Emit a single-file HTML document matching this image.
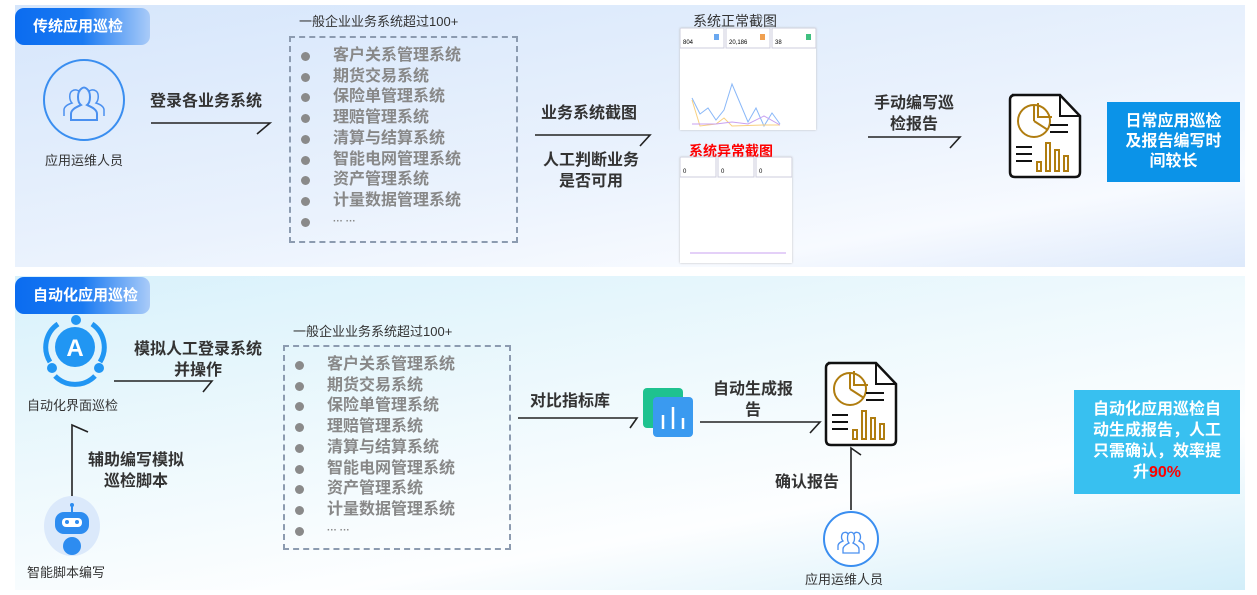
<!DOCTYPE html>
<html><head><meta charset="utf-8"><style>
body{margin:0;width:1257px;height:595px;background:#fff;position:relative;overflow:hidden;font-family:"Liberation Sans","Noto Sans CJK SC",sans-serif;}
.a{position:absolute;white-space:nowrap;}
.p1{position:absolute;left:15px;top:5px;width:1230px;height:262px;background:linear-gradient(170deg,#d6e6fb 0%,#eaf2fd 55%,#f7faff 80%,#dde9fb 100%);}
.p2{position:absolute;left:15px;top:276px;width:1230px;height:314px;background:linear-gradient(170deg,#d8f1fb 0%,#eef9fd 40%,#fdfeff 70%,#d2eef9 100%);}
.tag{position:absolute;left:15px;width:135px;height:37px;border-radius:9px;background:linear-gradient(90deg,#0b6cf0 0%,#1a7af2 50%,#a9cbf8 100%);color:#fff;font-weight:bold;font-size:15px;line-height:37px;padding-left:18px;box-sizing:border-box;}
.lbl{font-size:16px;color:#333;text-align:center;line-height:21px;font-weight:bold;}
.sm{font-size:13px;color:#333;}
.box{position:absolute;border:2.5px dashed #8c9bb0;box-sizing:border-box;}
.it{position:absolute;font-size:16px;color:#888;line-height:20.7px;font-weight:bold;}
.it div{position:relative;padding-left:44px;}
.it div:before{content:"";position:absolute;left:12px;top:6px;width:9px;height:9px;border-radius:50%;background:#8a8a8a;}
.shot{position:absolute;background:#fff;box-shadow:0 0 2px #bbb;}
</style></head><body>
<div class="p1"></div><div class="p2"></div>
<div class="tag" style="top:8px">传统应用巡检</div>
<div class="tag" style="top:277px">自动化应用巡检</div>

<svg class="a" style="left:0;top:0" width="1257" height="595">
<g fill="none" stroke="#222" stroke-width="1.6">
<path d="M151 123H270L257 134"/>
<path d="M535 135H650L640 146"/>
<path d="M868 137H960L950 148"/>
<path d="M114 381H212L203 392"/>
<path d="M72 497V425L88 432"/>
<path d="M518 418H637L630 428"/>
<path d="M700 422H820L810 433"/>
<path d="M851 510V448L861 455"/>
</g>
<circle cx="84" cy="100" r="40" fill="none" stroke="#3a8ef0" stroke-width="2"/>
<g fill="none" stroke="#4a90f0" stroke-width="1.5">
<path d="M64 116v-6c0-4 5-6 8-7-3-3-3-10 0-12 3-2 6-1 8 1"/>
<path d="M104 116v-6c0-4-5-6-8-7 3-3 3-10 0-12-3-2-6-1-8 1"/>
<path d="M71 120v-6c0-5 6-7 10-9-4-3-4-13 0-16 2-2 4-2 6 0 4 3 4 13 0 16 4 2 10 4 10 9v6z" stroke-width="2"/>
</g>
<circle cx="851" cy="539" r="27" fill="#fff" stroke="#3a8ef0" stroke-width="2"/>
<g fill="none" stroke="#4a90f0" stroke-width="1.3">
<path d="M838 550v-4c0-3 3-4 5-5-2-2-2-6 0-8 2-1 4-1 5 1"/>
<path d="M864 550v-4c0-3-3-4-5-5 2-2 2-6 0-8-2-1-4-1-5 1"/>
<path d="M843 553v-4c0-3 4-5 6-6-2-2-2-8 0-10 1-1 3-1 4 0 2 2 2 8 0 10 2 1 6 3 6 6v4z"/>
</g>
<g id="doc">
<path d="M1012 95H1060L1080 116V172Q1080 177 1075 177H1015Q1010 177 1010 172V100Q1010 95 1015 95Z" fill="#fff" stroke="#111" stroke-width="2.5"/>
<path d="M1060 95V116H1080" fill="none" stroke="#111" stroke-width="2"/>
<g fill="none" stroke="#b07d10" stroke-width="2">
<circle cx="1034" cy="121" r="16"/><path d="M1034 121V105M1034 121L1048 130M1038 103V117H1052"/>
<rect x="1046" y="143" width="4" height="28"/><rect x="1055" y="150" width="4" height="21"/><rect x="1064" y="156" width="4" height="15"/><rect x="1037" y="162" width="4" height="9"/>
</g>
<g stroke="#111" stroke-width="2"><path d="M1050 125H1068M1050 132H1068M1016 147H1032M1016 154H1032M1016 161H1032"/></g>
</g>
<use href="#doc" transform="translate(-184 268)"/>
<circle cx="75" cy="347" r="20" fill="#2196f3"/>
<text x="75" y="356" font-size="24" font-weight="bold" fill="#fff" text-anchor="middle" font-family="Liberation Sans">A</text>
<path d="M58 324A28 28 0 0 0 50 362M92 324A28 28 0 0 1 100 362M55 376A28 28 0 0 0 95 376" fill="none" stroke="#2196f3" stroke-width="5"/>
<circle cx="76" cy="320" r="5" fill="#2196f3"/><circle cx="52" cy="368" r="5" fill="#2196f3"/><circle cx="99" cy="368" r="5" fill="#2196f3"/>
<ellipse cx="72" cy="526" rx="28" ry="30" fill="#dbe9fb"/>
<rect x="55" y="512" width="34" height="22" rx="9" fill="#2d8cf0"/>
<rect x="62" y="518" width="20" height="9" rx="4" fill="#fff"/>
<circle cx="67" cy="522" r="2" fill="#2d8cf0"/><circle cx="77" cy="522" r="2" fill="#2d8cf0"/>
<path d="M72 506V512" stroke="#2d8cf0" stroke-width="2"/><circle cx="72" cy="505" r="2" fill="#2d8cf0"/>
<circle cx="72" cy="546" r="9" fill="#2d8cf0"/>
<rect x="643" y="388" width="40" height="40" rx="4" fill="#1fc28f"/>
<rect x="653" y="397" width="40" height="40" rx="4" fill="#3a9af0"/>
<g stroke="#fff" stroke-width="2.5"><path d="M663 415V429M673 407V429M683 418V429"/></g>
</svg>

<div class="a sm" style="left:42px;top:150px;width:84px;text-align:center">应用运维人员</div>
<div class="a lbl" style="left:150px;top:91px">登录各业务系统</div>
<div class="a sm" style="left:299px;top:11px">一般企业业务系统超过100+</div>
<div class="box" style="left:289px;top:36px;width:229px;height:207px"></div>
<div class="it" style="left:289px;top:46px"><div>客户关系管理系统</div><div>期货交易系统</div><div>保险单管理系统</div><div>理赔管理系统</div><div>清算与结算系统</div><div>智能电网管理系统</div><div>资产管理系统</div><div>计量数据管理系统</div><div style="font-size:10px">··· ···</div></div>
<div class="a lbl" style="left:541px;top:103px">业务系统截图</div>
<div class="a lbl" style="left:540px;top:150px;width:102px">人工判断业务<br>是否可用</div>
<div class="a" style="left:693px;top:11px;font-size:14px;color:#333">系统正常截图</div>
<div class="shot" style="left:680px;top:28px;width:136px;height:102px">
<svg width="136" height="102"><rect x="0" y="0" width="44" height="20" fill="#fff" stroke="#ccd"/><rect x="46" y="0" width="44" height="20" fill="#fff" stroke="#ccd"/><rect x="92" y="0" width="44" height="20" fill="#fff" stroke="#ccd"/>
<text x="3" y="16" font-size="6">804</text><text x="49" y="16" font-size="6">20,186</text><text x="95" y="16" font-size="6">38</text>
<rect x="34" y="6" width="5" height="6" fill="#6aa8f0"/><rect x="80" y="6" width="5" height="6" fill="#f0a050"/><rect x="126" y="6" width="5" height="6" fill="#40c080"/>
<polyline points="12,70 20,86 28,80 36,92 44,82 52,56 60,75 68,94 76,80 84,98 92,85 100,96" fill="none" stroke="#8ab8f8" stroke-width="1"/>
<polyline points="12,72 20,98 36,96 44,90 52,98 84,97 100,97" fill="none" stroke="#f8d080" stroke-width="1"/>
<polyline points="12,96 36,96 52,94 68,96 84,88 100,97" fill="none" stroke="#c8a0f0" stroke-width="1"/></svg></div>
<div class="a" style="left:689px;top:141px;font-size:14px;color:#f00;font-weight:bold">系统异常截图</div>
<div class="shot" style="left:680px;top:157px;width:112px;height:106px">
<svg width="112" height="106"><rect x="0" y="0" width="36" height="20" fill="#fff" stroke="#ccd"/><rect x="38" y="0" width="36" height="20" fill="#fff" stroke="#ccd"/><rect x="76" y="0" width="36" height="20" fill="#fff" stroke="#ccd"/>
<text x="3" y="16" font-size="6">0</text><text x="41" y="16" font-size="6">0</text><text x="79" y="16" font-size="6">0</text>
<path d="M10 96H106" stroke="#c8a0f0"/></svg></div>
<div class="a lbl" style="left:868px;top:93px;width:92px">手动编写巡<br>检报告</div>
<div class="a" style="left:1107px;top:102px;width:133px;height:80px;background:#0b93e8;color:#fff;font-weight:bold;font-size:16px;line-height:20px;text-align:center;padding-top:10px;box-sizing:border-box">日常应用巡检<br>及报告编写时<br>间较长</div>

<div class="a sm" style="left:27px;top:395px">自动化界面巡检</div>
<div class="a lbl" style="left:126px;top:339px;width:144px">模拟人工登录系统<br>并操作</div>
<div class="a lbl" style="left:82px;top:450px;width:108px">辅助编写模拟<br>巡检脚本</div>
<div class="a sm" style="left:27px;top:562px">智能脚本编写</div>
<div class="a sm" style="left:293px;top:321px">一般企业业务系统超过100+</div>
<div class="box" style="left:283px;top:345px;width:228px;height:205px"></div>
<div class="it" style="left:283px;top:355px"><div>客户关系管理系统</div><div>期货交易系统</div><div>保险单管理系统</div><div>理赔管理系统</div><div>清算与结算系统</div><div>智能电网管理系统</div><div>资产管理系统</div><div>计量数据管理系统</div><div style="font-size:10px">··· ···</div></div>
<div class="a lbl" style="left:530px;top:391px">对比指标库</div>
<div class="a lbl" style="left:708px;top:379px;width:90px">自动生成报<br>告</div>
<div class="a lbl" style="left:775px;top:472px">确认报告</div>
<div class="a sm" style="left:805px;top:569px">应用运维人员</div>
<div class="a" style="left:1074px;top:390px;width:166px;height:104px;background:#38c0f0;color:#fff;font-weight:bold;font-size:16px;line-height:21px;text-align:center;padding-top:9px;box-sizing:border-box">自动化应用巡检自<br>动生成报告，人工<br>只需确认，效率提<br>升<span style="color:#f00">90%</span></div>
</body></html>
